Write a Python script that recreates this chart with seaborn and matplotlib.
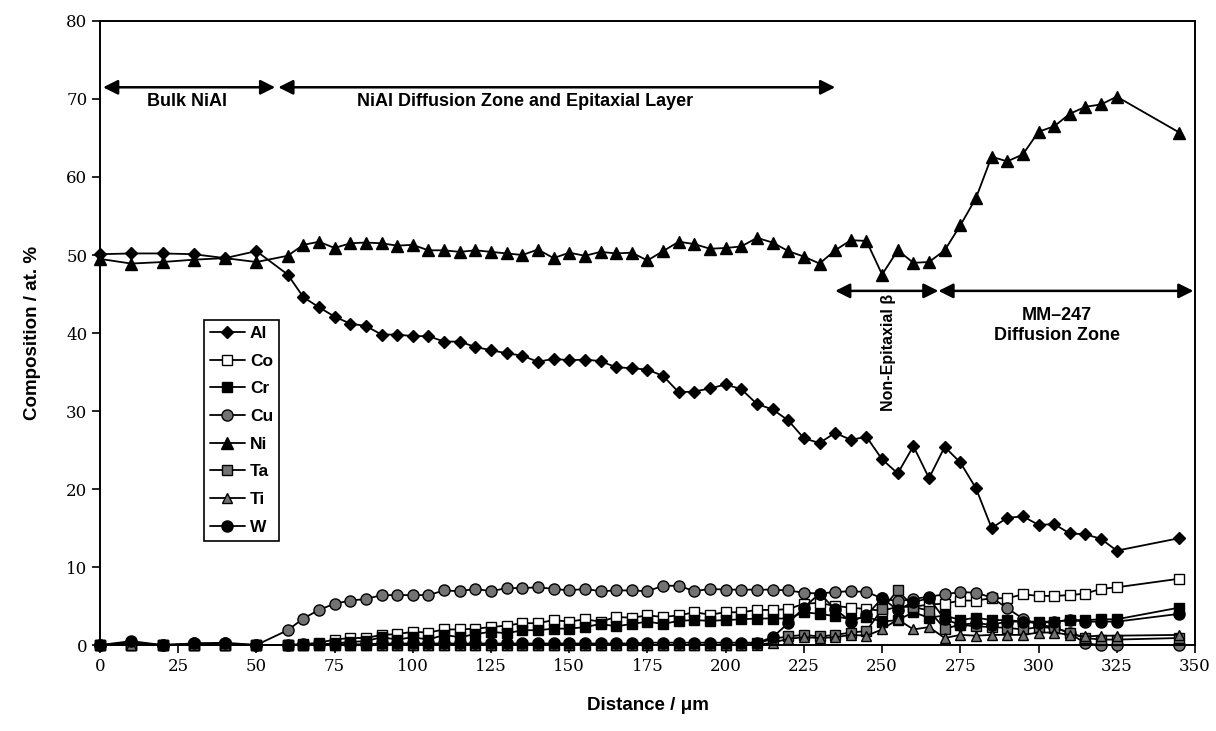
import matplotlib
matplotlib.use("Agg")
import matplotlib.pyplot as plt
import seaborn as sns
import pandas as pd

# ---------------- data ----------------
distance = [0, 10, 20, 30, 40, 50,
            60, 65, 70, 75, 80, 85, 90, 95, 100, 105, 110, 115, 120, 125,
            130, 135, 140, 145, 150, 155, 160, 165, 170, 175, 180, 185, 190, 195,
            200, 205, 210, 215, 220, 225, 230, 235, 240, 245, 250, 255, 260, 265,
            270, 275, 280, 285, 290, 295, 300, 305, 310, 315, 320, 325, 345]

al = [50.1, 50.2, 50.2, 50.1, 49.6, 50.5,
      47.5, 44.6, 43.3, 42.1, 41.2, 40.9, 39.8, 39.8, 39.6, 39.6, 38.9, 38.9, 38.2, 37.8,
      37.4, 37.1, 36.3, 36.7, 36.5, 36.6, 36.4, 35.6, 35.5, 35.3, 34.5, 32.4, 32.5, 32.9,
      33.4, 32.8, 30.9, 30.2, 28.8, 26.5, 25.9, 27.2, 26.3, 26.7, 23.8, 22.0, 25.5, 21.4,
      25.4, 23.4, 20.1, 15.0, 16.3, 16.5, 15.4, 15.5, 14.3, 14.2, 13.6, 12.1, 13.7]

ni = [49.5, 48.9, 49.1, 49.4, 49.6, 49.1,
      49.9, 51.3, 51.7, 50.9, 51.5, 51.6, 51.5, 51.2, 51.3, 50.6, 50.6, 50.4, 50.6, 50.4,
      50.2, 50.0, 50.7, 49.6, 50.3, 49.9, 50.4, 50.2, 50.3, 49.3, 50.5, 51.7, 51.4, 50.8,
      50.9, 51.1, 52.2, 51.6, 50.5, 49.8, 48.9, 50.6, 51.9, 51.8, 47.5, 50.6, 49.0, 49.1,
      50.6, 53.8, 57.3, 62.6, 62.0, 62.9, 65.8, 66.5, 68.1, 69.0, 69.3, 70.3, 65.7]

co = [0.0, 0.0, 0.0, 0.0, 0.0, 0.0,
      0.0, 0.1, 0.3, 0.7, 0.9, 0.9, 1.3, 1.4, 1.7, 1.6, 2.0, 2.0, 2.1, 2.3,
      2.5, 2.8, 2.8, 3.2, 3.0, 3.3, 3.0, 3.6, 3.5, 3.8, 3.6, 3.8, 4.2, 3.9,
      4.2, 4.2, 4.5, 4.5, 4.6, 5.3, 5.4, 5.0, 4.8, 4.6, 4.4, 4.9, 4.9, 5.2,
      5.3, 5.7, 5.7, 6.0, 6.0, 6.5, 6.3, 6.3, 6.4, 6.6, 7.2, 7.4, 8.5]

cr = [0.0, 0.0, 0.0, 0.0, 0.0, 0.0,
      0.0, 0.0, 0.1, 0.2, 0.4, 0.5, 1.0, 0.7, 1.0, 0.7, 1.3, 1.0, 1.4, 1.7,
      1.5, 1.9, 1.9, 2.1, 2.1, 2.3, 2.7, 2.4, 2.7, 3.0, 2.7, 3.1, 3.2, 3.1,
      3.2, 3.3, 3.4, 3.4, 3.4, 4.2, 4.0, 3.7, 3.3, 3.6, 3.0, 3.2, 4.2, 3.5,
      3.8, 3.2, 3.5, 3.2, 3.2, 3.0, 3.0, 3.0, 3.2, 3.2, 3.3, 3.3, 4.8]

cu = [0.0, 0.3, 0.0, 0.2, 0.3, 0.0,
      1.9, 3.4, 4.5, 5.3, 5.7, 5.9, 6.4, 6.4, 6.4, 6.4, 7.0, 6.9, 7.2, 6.9,
      7.3, 7.3, 7.4, 7.2, 7.0, 7.2, 6.9, 7.0, 7.0, 6.9, 7.6, 7.6, 6.9, 7.2,
      7.1, 7.1, 7.1, 7.1, 7.0, 6.7, 6.6, 6.8, 6.9, 6.8, 6.0, 5.6, 5.9, 6.2,
      6.5, 6.8, 6.7, 6.1, 4.7, 3.4, 2.6, 2.3, 1.5, 0.2, 0.0, 0.0, 0.0]

ta = [0.0, 0.0, 0.0, 0.0, 0.0, 0.0,
      0.0, 0.0, 0.0, 0.0, 0.0, 0.0, 0.0, 0.0, 0.0, 0.0, 0.0, 0.0, 0.0, 0.0,
      0.0, 0.0, 0.0, 0.0, 0.0, 0.0, 0.0, 0.0, 0.0, 0.0, 0.0, 0.0, 0.0, 0.0,
      0.0, 0.0, 0.2, 0.8, 1.1, 1.3, 1.1, 1.3, 1.6, 1.8, 4.6, 7.0, 4.9, 4.4,
      2.1, 2.6, 2.4, 2.3, 2.2, 2.0, 2.3, 2.2, 1.6, 0.9, 0.7, 0.7, 0.9]

ti = [0.0, 0.0, 0.0, 0.0, 0.0, 0.0,
      0.0, 0.0, 0.0, 0.0, 0.0, 0.0, 0.0, 0.0, 0.0, 0.0, 0.0, 0.0, 0.0, 0.0,
      0.0, 0.0, 0.0, 0.0, 0.0, 0.0, 0.0, 0.0, 0.0, 0.0, 0.0, 0.0, 0.0, 0.0,
      0.0, 0.0, 0.0, 0.3, 0.8, 1.0, 0.9, 1.0, 1.3, 1.2, 2.0, 3.3, 2.0, 2.3,
      0.9, 1.3, 1.2, 1.3, 1.3, 1.3, 1.6, 1.6, 1.3, 1.1, 1.2, 1.2, 1.3]

w = [0.0, 0.5, 0.0, 0.2, 0.2, 0.0,
     0.0, 0.1, 0.1, 0.1, 0.1, 0.1, 0.2, 0.2, 0.2, 0.2, 0.2, 0.2, 0.2, 0.2,
     0.2, 0.2, 0.2, 0.2, 0.2, 0.2, 0.2, 0.2, 0.2, 0.3, 0.3, 0.3, 0.3, 0.3,
     0.3, 0.3, 0.3, 1.0, 2.8, 4.8, 6.6, 4.6, 3.0, 3.8, 6.0, 4.5, 5.5, 6.0,
     3.3, 2.6, 2.8, 2.6, 3.0, 3.0, 2.8, 3.0, 3.2, 3.0, 3.0, 3.0, 4.0]

elements = ["Al", "Co", "Cr", "Cu", "Ni", "Ta", "Ti", "W"]
x_ticks = list(range(0, 351, 25))
y_ticks = list(range(0, 81, 10))

# ---------------- style ----------------
sns.set_style("ticks")
plt.rcParams["font.family"] = ["Liberation Sans", "DejaVu Sans"]
for key in ["text.color", "axes.labelcolor", "xtick.color", "ytick.color", "axes.edgecolor"]:
    plt.rcParams[key] = "black"

GRAY = "#737373"
styles = {
    "Al": dict(marker="D", ms=6.0, mfc="black"),
    "Co": dict(marker="s", ms=7.5, mfc="white"),
    "Cr": dict(marker="s", ms=7.5, mfc="black"),
    "Cu": dict(marker="o", ms=8.0, mfc=GRAY),
    "Ni": dict(marker="^", ms=8.5, mfc="black"),
    "Ta": dict(marker="s", ms=7.5, mfc=GRAY),
    "Ti": dict(marker="^", ms=7.5, mfc=GRAY),
    "W":  dict(marker="o", ms=8.0, mfc="black"),
}
series = {"Al": al, "Co": co, "Cr": cr, "Cu": cu, "Ni": ni, "Ta": ta, "Ti": ti, "W": w}

fig = plt.figure(figsize=(12.16, 7.31), dpi=100)
ax = fig.add_axes([0.0822, 0.1176, 0.9005, 0.8537])

df = pd.DataFrame({"Distance": distance, **series})
for el in elements:
    st = styles[el]
    sns.lineplot(data=df, x="Distance", y=el, ax=ax, color="black", linewidth=1.3,
                 marker=st["marker"], markersize=st["ms"], markerfacecolor=st["mfc"],
                 markeredgecolor="black", markeredgewidth=1.0, label=el,
                 estimator=None, sort=False, clip_on=False)

ax.set_xlim(0, 350)
ax.set_ylim(0, 80)
ax.set_xticks(x_ticks)
ax.set_yticks(y_ticks)
for lab in ax.get_xticklabels() + ax.get_yticklabels():
    lab.set_fontfamily("DejaVu Serif")
    lab.set_fontsize(12)
    lab.set_color("black")
ax.tick_params(direction="out", length=6, width=1.2, colors="black", pad=3)
for sp in ax.spines.values():
    sp.set_visible(True)
    sp.set_color("black")
    sp.set_linewidth(1.4)

ax.set_xlabel("Distance / \u03bcm", fontsize=13.5, fontweight="bold", labelpad=16, color="black")
ax.set_ylabel("Composition / at. %", fontsize=13.5, fontweight="bold", labelpad=18, color="black")

leg = ax.legend(loc="upper left", bbox_to_anchor=(0.095, 0.521), fontsize=12.5,
                frameon=True, fancybox=False, edgecolor="black", framealpha=1,
                handlelength=2.0, handletextpad=0.3, labelspacing=0.72,
                borderpad=0.35, borderaxespad=0)
leg.get_frame().set_linewidth(1.2)
for t in leg.get_texts():
    t.set_fontweight("bold")
    t.set_color("black")

# ---------------- annotations ----------------
arrow_kw = dict(arrowstyle="<|-|>", color="black", lw=1.8, mutation_scale=22,
                shrinkA=0, shrinkB=0)

def span(x0, x1, y):
    ax.annotate("", xy=(x0, y), xytext=(x1, y), arrowprops=arrow_kw,
                annotation_clip=False)

span(1, 56, 71.5)
span(57, 235, 71.5)
span(235, 268, 45.4)
span(268, 349.5, 45.4)

txt_kw = dict(fontweight="bold", ha="center", va="center", color="black")
ax.text(27.8, 69.7, "Bulk NiAl", fontsize=13, **txt_kw)
ax.text(135.8, 69.7, "NiAl Diffusion Zone and Epitaxial Layer", fontsize=13, **txt_kw)
ax.text(252, 37.5, "Non-Epitaxial \u03b2", rotation=90, fontsize=11.5, **txt_kw)
ax.text(305.8, 41.0, "MM\u2013247\nDiffusion Zone", fontsize=13, linespacing=1.25, **txt_kw)

fig.savefig("out.png", dpi=100)
